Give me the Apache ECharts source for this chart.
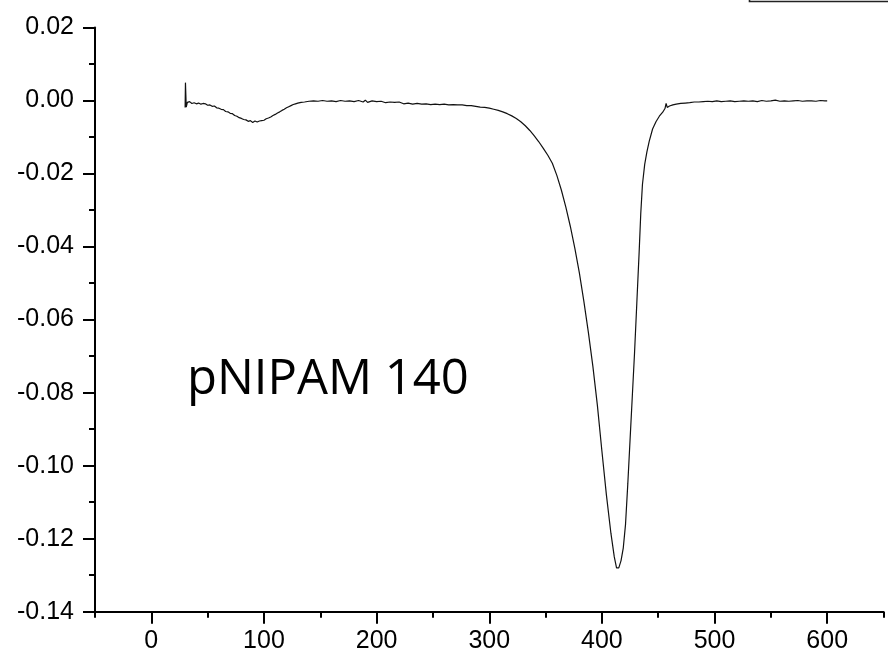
<!DOCTYPE html>
<html>
<head>
<meta charset="utf-8">
<script src="https://cdn.jsdelivr.net/npm/echarts@6/dist/echarts.min.js"></script>
<style>html,body{margin:0;padding:0;background:#fff}#c{width:888px;height:658px}</style>
</head>
<body>
<div id="c"></div>
<script>
const xTickLabels = [0, 100, 200, 300, 400, 500, 600];
const xMinorTicks = [-50, 50, 150, 250, 350, 450, 550, 650];
const annotation = 'pNIPAM 140';
const xs = [30,30.3,31,32,34,36,38,40,42,44,46,48,50,52,54,56,58,60,62,64,66,68,70,72,74,76,78,80,82,84,86,88,90,92,94,96,98,100,102,104,106,108,110,112,114,116,118,120,122,124,126,128,130,133,136,140,144,148,152,156,160,164,168,172,176,180,184,188,190,192,196,200,204,208,212,216,220,224,228,232,236,240,244,248,252,256,260,264,268,272,276,280,284,288,292,296,300,304,308,312,316,320,324,328,332,336,340,344,348,352,356,360,364,368,372,376,380,384,388,392,396,400,404,408,411,413,414,415,417,419,421,423,425,427,429,431,433,434.5,436,438,440,442,445,448,451,454,456,457,458,460,463,466,470,474,478,482,486,490,494,498,502,506,510,514,518,522,526,530,534,538,542,546,550,554,558,562,566,570,574,578,582,586,590,594,598,600];
const ys = [-0.0019,0.0049,-0.0018,-0.0005,-0.0003,-0.0008,-0.0006,-0.0009,-0.0007,-0.0010,-0.0008,-0.0009,-0.0013,-0.0012,-0.0016,-0.0015,-0.0020,-0.0021,-0.0024,-0.0025,-0.0030,-0.0031,-0.0035,-0.0036,-0.0041,-0.0043,-0.0047,-0.0049,-0.0052,-0.0053,-0.0057,-0.0055,-0.0060,-0.0056,-0.0059,-0.0056,-0.0055,-0.0054,-0.0050,-0.0048,-0.0045,-0.0041,-0.0038,-0.0034,-0.0031,-0.0027,-0.0024,-0.0020,-0.0017,-0.0014,-0.0011,-0.0009,-0.0007,-0.0005,-0.0004,-0.0002,-0.0001,-0.0002,0.0000,-0.0002,-0.0001,-0.0003,0.0000,-0.0002,-0.0001,-0.0003,0.0000,-0.0004,0.0001,-0.0005,-0.0001,-0.0003,-0.0002,-0.0006,-0.0004,-0.0005,-0.0004,-0.0009,-0.0007,-0.0010,-0.0008,-0.0010,-0.0009,-0.0011,-0.0010,-0.0011,-0.0010,-0.0012,-0.0011,-0.0012,-0.0012,-0.0014,-0.0014,-0.0016,-0.0018,-0.0019,-0.0021,-0.0024,-0.0027,-0.0031,-0.0036,-0.0042,-0.0049,-0.0058,-0.0069,-0.0082,-0.0097,-0.0113,-0.0131,-0.0150,-0.0172,-0.0205,-0.0245,-0.0292,-0.0345,-0.0405,-0.0472,-0.0550,-0.0635,-0.0728,-0.0835,-0.0960,-0.1080,-0.1185,-0.1250,-0.1280,-0.1285,-0.1280,-0.1260,-0.1225,-0.1160,-0.1050,-0.0930,-0.0810,-0.0690,-0.0555,-0.0420,-0.0310,-0.0230,-0.0175,-0.0140,-0.0112,-0.0078,-0.0058,-0.0043,-0.0032,-0.0022,-0.0008,-0.0019,-0.0015,-0.0012,-0.0010,-0.0008,-0.0007,-0.0006,-0.0004,-0.0004,-0.0003,-0.0002,-0.0003,-0.0001,-0.0003,-0.0002,-0.0001,-0.0003,-0.0002,-0.0001,-0.0002,-0.0001,-0.0003,0.0000,-0.0002,-0.0001,0.0001,-0.0002,-0.0001,-0.0002,-0.0001,0.0000,-0.0002,-0.0001,-0.0001,-0.0002,0.0000,-0.0001,-0.0001];

const data = xs.map((x, i) => [x, ys[i]]);
const chart = echarts.init(document.getElementById('c'), null, {renderer: 'canvas'});
const axisFont = {fontFamily: 'Liberation Sans, Arial, sans-serif', fontSize: 25, color: '#000'};
chart.setOption({
  animation: false,
  backgroundColor: '#fff',
  grid: {left: 95, right: 4.5, top: 27.5, bottom: 46.3, containLabel: false},
  xAxis: [{
    type: 'value', min: -50, max: 650, interval: 50, position: 'bottom',
    splitLine: {show: false},
    axisLine: {show: true, onZero: false, lineStyle: {color: '#000', width: 2}},
    axisTick: {show: true, inside: false, length: 12, customValues: xTickLabels, lineStyle: {color: '#000', width: 2}},
    axisLabel: Object.assign({margin: 17, customValues: xTickLabels, formatter: v => String(v)}, axisFont)
  }, {
    type: 'value', min: -50, max: 650, interval: 50, position: 'bottom',
    splitLine: {show: false},
    axisLine: {show: false, onZero: false},
    axisTick: {show: true, inside: false, length: 6, customValues: xMinorTicks, lineStyle: {color: '#000', width: 2}},
    axisLabel: {show: false}
  }],
  yAxis: {
    type: 'value', min: -0.14, max: 0.02, interval: 0.02,
    splitLine: {show: false},
    axisLine: {show: true, onZero: false, lineStyle: {color: '#000', width: 2}},
    axisTick: {show: true, inside: false, length: 12, lineStyle: {color: '#000', width: 2}},
    minorTick: {show: true, splitNumber: 2, length: 6, lineStyle: {color: '#000', width: 2}},
    minorSplitLine: {show: false},
    axisLabel: Object.assign({margin: 21, formatter: v => v.toFixed(2)}, axisFont)
  },
  series: [{
    type: 'line', data: data, xAxisIndex: 0, showSymbol: false, symbol: 'none',
    lineStyle: {color: '#111', width: 1.2}, silent: true
  }],
  graphic: [
    {type: 'rect', shape: {x: 749.5, y: -20, width: 200, height: 21.5},
     style: {fill: '#fff', stroke: '#222', lineWidth: 1.6}},
    {type: 'text', x: 187, y: 380.5,
     style: {text: annotation, font: '49px "Open Sans", "Noto Sans", sans-serif', fill: '#000', verticalAlign: 'middle', align: 'left'}}
  ]
});
</script>
</body>
</html>
